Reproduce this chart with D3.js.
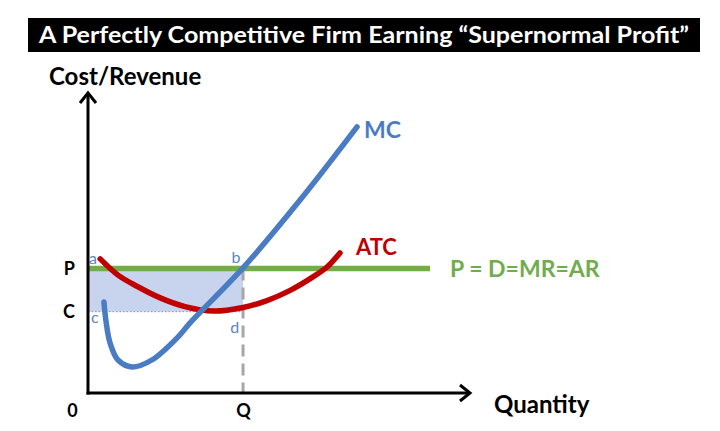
<!DOCTYPE html>
<html>
<head>
<meta charset="utf-8">
<script src="https://cdn.jsdelivr.net/npm/d3@7"></script>
<style>
  body { margin: 0; background: #fff; }
  svg { display: block; font-family: Lato, "Open Sans", sans-serif; }
</style>
</head>
<body>
<div id="wrapper"></div>
<script>
// # Data (quantity / cost units)
const priceLevel = 4.15;
const costLevel = 2.71;
const quantityLevel = 4.08;

const mcQuantity = [0.42, 0.47, 0.58, 0.79, 1.16, 1.68, 2.37, 2.68, 4.08, 5.58, 7.08];
const mcCost     = [3.03, 2.43, 1.67, 1.10, 0.87, 1.10, 1.87, 2.33, 4.17, 6.43, 8.87];

const atcQuantity = [0.32, 0.80, 1.30, 1.90, 2.55, 3.30, 4.08, 4.71, 5.32, 5.92, 6.29, 6.63];
const atcCost     = [4.47, 3.92, 3.55, 3.17, 2.88, 2.73, 2.85, 3.08, 3.42, 3.87, 4.20, 4.67];

const demandQuantity = [0, 9.0];

const yTickValues = [priceLevel, costLevel];
const yTickLabels = ["P", "C"];
const xTickValues = [0, quantityLevel];
const xTickLabels = ["0", "Q"];

const pointLabels = [
  { text: "a", q: 0.0, c: priceLevel, dy: -5 },
  { text: "b", q: 3.75, c: priceLevel, dy: -6 },
  { text: "c", q: 0.05, c: costLevel, dy: 11 },
  { text: "d", q: 3.72, c: costLevel, dy: 21 }
];

// # Dimensions
const dimensions = {
  width: 720,
  height: 431,
  margin: { top: 93, right: 252, bottom: 38, left: 88 }
};
dimensions.boundedWidth = dimensions.width - dimensions.margin.left - dimensions.margin.right;
dimensions.boundedHeight = dimensions.height - dimensions.margin.top - dimensions.margin.bottom;

const blue = "#4a7cc4";
const red = "#c00000";
const green = "#72ac4d";
const labelBlue = "#5a86c2";

const svg = d3.select("#wrapper").append("svg")
  .attr("width", dimensions.width)
  .attr("height", dimensions.height);

// # Title
svg.append("rect")
  .attr("x", 28).attr("y", 18)
  .attr("width", 672).attr("height", 34)
  .attr("fill", "#000");
svg.append("text")
  .attr("x", 364).attr("y", 43)
  .attr("text-anchor", "middle")
  .attr("fill", "#fff")
  .style("font-size", "22px")
  .style("font-weight", "bold")
  .attr("textLength", 650)
  .attr("lengthAdjust", "spacingAndGlyphs")
  .text("A Perfectly Competitive Firm Earning \u201cSupernormal Profit\u201d");

const bounds = svg.append("g")
  .attr("transform", `translate(${dimensions.margin.left},${dimensions.margin.top})`);

// # Scales
const xScale = d3.scaleLinear().domain([0, 10]).range([0, dimensions.boundedWidth]);
const yScale = d3.scaleLinear().domain([0, 10]).range([dimensions.boundedHeight, 0]);

// # Profit area
bounds.append("rect")
  .attr("x", xScale(0))
  .attr("y", yScale(priceLevel))
  .attr("width", xScale(quantityLevel) - xScale(0))
  .attr("height", yScale(costLevel) - yScale(priceLevel))
  .attr("fill", "#c8d3ee");

bounds.append("line")
  .attr("x1", xScale(0)).attr("x2", xScale(quantityLevel))
  .attr("y1", yScale(costLevel)).attr("y2", yScale(costLevel))
  .attr("stroke", "#8fa3c8")
  .attr("stroke-width", 1.2)
  .attr("stroke-dasharray", "1.5 2");

bounds.append("line")
  .attr("x1", xScale(quantityLevel)).attr("x2", xScale(quantityLevel))
  .attr("y1", yScale(priceLevel)).attr("y2", yScale(0))
  .attr("stroke", "#a6a6a6")
  .attr("stroke-width", 3)
  .attr("stroke-dasharray", "12 7");

// # Demand line
bounds.append("line")
  .attr("x1", xScale(demandQuantity[0])).attr("x2", xScale(demandQuantity[1]))
  .attr("y1", yScale(priceLevel)).attr("y2", yScale(priceLevel))
  .attr("stroke", green)
  .attr("stroke-width", 5.5);

// # Curves
const lineGen = d3.line()
  .x(d => xScale(d[0]))
  .y(d => yScale(d[1]))
  .curve(d3.curveCatmullRom.alpha(0.5));

bounds.append("path")
  .datum(d3.zip(atcQuantity, atcCost))
  .attr("d", lineGen)
  .attr("fill", "none")
  .attr("stroke", red)
  .attr("stroke-width", 5.5)
  .attr("stroke-linecap", "round");

bounds.append("path")
  .datum(d3.zip(mcQuantity, mcCost))
  .attr("d", lineGen)
  .attr("fill", "none")
  .attr("stroke", blue)
  .attr("stroke-width", 5.5)
  .attr("stroke-linecap", "round");

// # Curve labels
const lastMc = mcQuantity.length - 1;
bounds.append("text")
  .attr("x", xScale(mcQuantity[lastMc]) + 7)
  .attr("y", yScale(mcCost[lastMc]) + 11)
  .attr("fill", blue)
  .style("font-size", "23px").style("font-weight", "bold")
  .text("MC");

const lastAtc = atcQuantity.length - 1;
bounds.append("text")
  .attr("x", xScale(atcQuantity[lastAtc]) + 16)
  .attr("y", yScale(atcCost[lastAtc]) + 2)
  .attr("fill", red)
  .style("font-size", "22px").style("font-weight", "bold")
  .text("ATC");

bounds.append("text")
  .attr("x", xScale(demandQuantity[1]) + 20)
  .attr("y", yScale(priceLevel) + 8)
  .attr("fill", green)
  .style("font-size", "23px").style("font-weight", "bold")
  .text("P = D=MR=AR");

// # Point labels
bounds.selectAll(".pt")
  .data(pointLabels)
  .join("text")
  .attr("class", "pt")
  .attr("x", d => xScale(d.q) + 1)
  .attr("y", d => yScale(d.c) + d.dy)
  .attr("fill", labelBlue)
  .style("font-size", "16px")
  .text(d => d.text);

// # Axes (tick labels via d3 axes)
const yAxis = bounds.append("g")
  .call(d3.axisLeft(yScale)
    .tickValues(yTickValues)
    .tickFormat((d, i) => yTickLabels[i])
    .tickSize(0)
    .tickPadding(13));
yAxis.select(".domain").remove();
yAxis.selectAll("text")
  .style("font-size", "18px").style("font-weight", "bold")
  .style("font-family", "Lato, sans-serif")
  .attr("fill", "#000");

const xAxis = bounds.append("g")
  .attr("transform", `translate(0,${dimensions.boundedHeight})`)
  .call(d3.axisBottom(xScale)
    .tickValues(xTickValues)
    .tickFormat((d, i) => xTickLabels[i])
    .tickSize(0)
    .tickPadding(11));
xAxis.select(".domain").remove();
xAxis.selectAll("text")
  .style("font-size", "18px").style("font-weight", "bold")
  .style("font-family", "Lato, sans-serif")
  .attr("fill", "#000");
xAxis.selectAll(".tick").filter((d, i) => i === 0)
  .select("text").attr("x", -16);

// # Axis arrows
const x0 = xScale(0), y0 = yScale(0);
bounds.append("path")
  .attr("d", `M${x0},${y0 + 1.5} V0`)
  .attr("stroke", "#000").attr("stroke-width", 3).attr("fill", "none");
bounds.append("path")
  .attr("d", `M${x0 - 8},10 L${x0},0 L${x0 + 8},10`)
  .attr("stroke", "#000").attr("stroke-width", 3).attr("fill", "none");
const xEnd = 382;
bounds.append("path")
  .attr("d", `M${x0 - 1.5},${y0} H${xEnd}`)
  .attr("stroke", "#000").attr("stroke-width", 3).attr("fill", "none");
bounds.append("path")
  .attr("d", `M${xEnd - 10},${y0 - 8} L${xEnd},${y0} L${xEnd - 10},${y0 + 8}`)
  .attr("stroke", "#000").attr("stroke-width", 3).attr("fill", "none");

// # Axis titles
svg.append("text")
  .attr("x", 49).attr("y", 85)
  .style("font-size", "24px").style("font-weight", "bold")
  .text("Cost/Revenue");
svg.append("text")
  .attr("x", 494).attr("y", 413)
  .style("font-size", "24px").style("font-weight", "bold")
  .text("Quantity");
</script>
</body>
</html>
